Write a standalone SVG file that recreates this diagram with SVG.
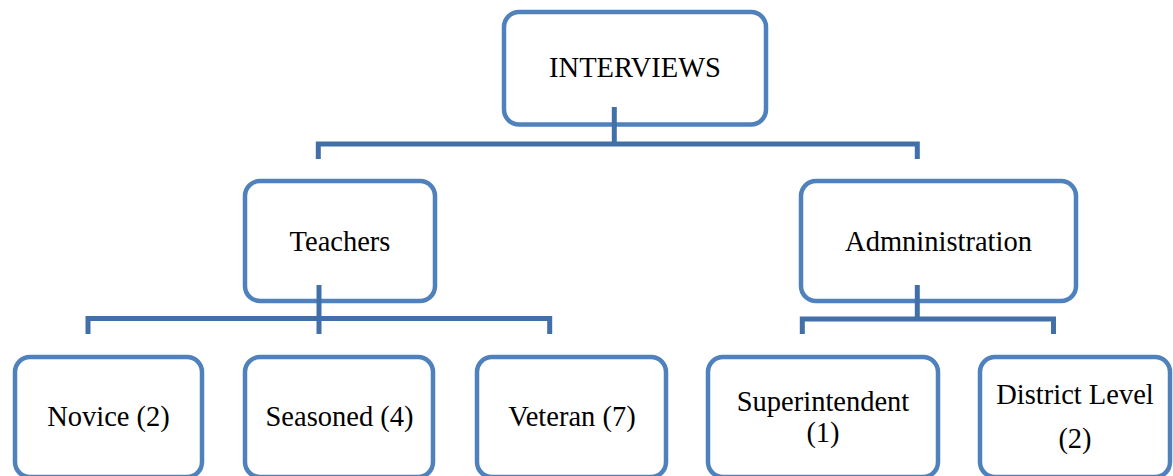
<svg xmlns="http://www.w3.org/2000/svg" width="1173" height="476" viewBox="0 0 1173 476">
<style>
.box{fill:#fff;stroke:#4F81BD;stroke-width:4.5}
.lbl{font-family:"Liberation Serif","Times New Roman",serif;font-size:28.5px;fill:#000;text-anchor:middle}
.con{fill:none;stroke:#4170A8;stroke-width:5;stroke-linejoin:miter;stroke-linecap:butt}
</style>
<rect width="1173" height="476" fill="#fff"/>
<g id="nodes">
<g id="interviews"><rect class="box" x="504" y="12" width="262" height="112.5" rx="15"/><text class="lbl" x="635" y="77">INTERVIEWS</text></g>
<g id="teachers"><rect class="box" x="245" y="181" width="190" height="120" rx="15"/><text class="lbl" x="340" y="251">Teachers</text></g>
<g id="administration"><rect class="box" x="801" y="181" width="275" height="120" rx="15"/><text class="lbl" x="938.5" y="251">Admninistration</text></g>
<g id="novice"><rect class="box" x="15" y="357" width="187" height="120" rx="15"/><text class="lbl" x="108.5" y="426">Novice (2)</text></g>
<g id="seasoned"><rect class="box" x="245" y="357" width="188" height="120" rx="15"/><text class="lbl" x="339.5" y="426">Seasoned (4)</text></g>
<g id="veteran"><rect class="box" x="477" y="357" width="189" height="120" rx="15"/><text class="lbl" x="572" y="426">Veteran (7)</text></g>
<g id="superintendent"><rect class="box" x="708" y="357" width="230" height="120" rx="15"/><text class="lbl" x="823" y="411">Superintendent</text><text class="lbl" x="823" y="442">(1)</text></g>
<g id="district"><rect class="box" x="980" y="357" width="190" height="120" rx="15"/><text class="lbl" x="1075" y="404">District Level</text><text class="lbl" x="1075" y="448">(2)</text></g>
</g>
<g id="connectors">
<path class="con" d="M614.3 107 V144"/>
<path class="con" d="M318.3 159 V144 H917.3 V159"/>
<path class="con" d="M319 285 V334"/>
<path class="con" d="M88 334 V318.5 H549.7 V334"/>
<path class="con" d="M917.3 285 V319"/>
<path class="con" d="M802.3 334 V319 H1053.5 V334"/>
</g>
</svg>
